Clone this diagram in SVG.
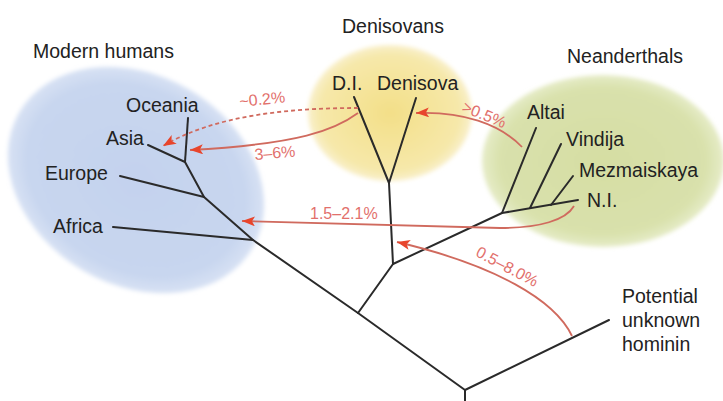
<svg xmlns="http://www.w3.org/2000/svg" width="723" height="401" viewBox="0 0 723 401">
<defs>
<filter id="soft" x="-10%" y="-10%" width="120%" height="120%"><feGaussianBlur stdDeviation="2"/></filter>
<radialGradient id="yel" cx="0.5" cy="0.5" r="0.5"><stop offset="0" stop-color="#f3df88"/><stop offset="0.85" stop-color="#f6e8aa"/><stop offset="1" stop-color="#f9f0cc"/></radialGradient>
<radialGradient id="grn" cx="0.5" cy="0.5" r="0.5"><stop offset="0" stop-color="#d6dea3"/><stop offset="0.85" stop-color="#d9e1ac"/><stop offset="1" stop-color="#e6ecc8"/></radialGradient>
<radialGradient id="blu" cx="0.5" cy="0.5" r="0.5"><stop offset="0" stop-color="#c4d2ee"/><stop offset="0.85" stop-color="#c8d6ef"/><stop offset="1" stop-color="#d8e2f4"/></radialGradient>
<marker id="ah" viewBox="0 0 13 10" refX="13" refY="5" markerWidth="13" markerHeight="10" markerUnits="userSpaceOnUse" orient="auto"><path d="M0,0 L13,5 L0,10 L3,5 z" fill="#e8452c"/></marker>
<style>
.lbl{font-family:"Liberation Sans",Arial,sans-serif;font-size:19.5px;fill:#222}
.pct{font-family:"Liberation Sans",Arial,sans-serif;font-size:16px;fill:#e2706c}
.br{fill:none;stroke:#2a2a2a;stroke-width:2;stroke-linecap:round;stroke-linejoin:round}
.fl{fill:none;stroke:#d06a5e;stroke-width:1.8}
</style>
</defs>
<rect width="723" height="401" fill="#ffffff"/>
<g id="groups">
<ellipse cx="136" cy="180" rx="135" ry="105" transform="rotate(30 136 180)" fill="url(#blu)" filter="url(#soft)"/>
<ellipse cx="390" cy="113" rx="82" ry="68" fill="url(#yel)" filter="url(#soft)"/>
<ellipse cx="603" cy="161" rx="121" ry="86" fill="url(#grn)" filter="url(#soft)"/>
</g>
<g id="tree">
<path class="br" d="M465,401 L465,390 L358,313 L253,240 L204,197 L185,162 L148,145"/>
<path class="br" d="M185,162 L188,118"/>
<path class="br" d="M204,197 L120,176"/>
<path class="br" d="M253,240 L113,227"/>
<path class="br" d="M358,313 L393,264 L389,183"/>
<path class="br" d="M389,183 L354,97"/>
<path class="br" d="M389,183 L416,98"/>
<path class="br" d="M393,264 L502,213 L578,200"/>
<path class="br" d="M502,213 L536,128"/>
<path class="br" d="M530,208 L561,144"/>
<path class="br" d="M551,205 L573,176"/>
<path class="br" d="M465,390 L609,320"/>
</g>
<g id="connectors">
<path class="fl" d="M358,108 C290,108 215,115 163,146" stroke="#b68080" stroke-dasharray="4,3" marker-end="url(#ah)"/>
<path class="fl" d="M358,113 C335,130 300,144 190,150" stroke="#c0705e" marker-end="url(#ah)"/>
<path class="fl" d="M522,147 C500,124 462,111 416,113" stroke="#b07a58" marker-end="url(#ah)"/>
<path class="fl" d="M574,206 C566,220 540,228 500,228 L242,221" stroke="#e07070" marker-end="url(#ah)"/>
<path class="fl" d="M572,336 C555,300 495,265 397,242" stroke="#c8707a" marker-end="url(#ah)"/>
</g>
<g id="labels">
<text class="lbl" x="33" y="58">Modern humans</text>
<text class="lbl" x="342" y="33">Denisovans</text>
<text class="lbl" x="567" y="63">Neanderthals</text>
<text class="lbl" x="126" y="112">Oceania</text>
<text class="lbl" x="106" y="145">Asia</text>
<text class="lbl" x="45" y="180">Europe</text>
<text class="lbl" x="53" y="233">Africa</text>
<text class="lbl" x="332" y="90">D.I.</text>
<text class="lbl" x="377" y="90">Denisova</text>
<text class="lbl" x="527" y="119">Altai</text>
<text class="lbl" x="566" y="146">Vindija</text>
<text class="lbl" x="579" y="177">Mezmaiskaya</text>
<text class="lbl" x="587" y="207">N.I.</text>
<text class="lbl" x="622" y="303">Potential</text>
<text class="lbl" x="622" y="327">unknown</text>
<text class="lbl" x="622" y="351">hominin</text>
</g>
<g id="percents">
<text class="pct" x="240" y="107" transform="rotate(-6 240 107)">~0.2%</text>
<text class="pct" x="255" y="160" transform="rotate(-5 255 160)">3–6%</text>
<text class="pct" transform="translate(484,115) rotate(22)" x="0" y="5" text-anchor="middle">&gt;0.5%</text>
<text class="pct" x="310" y="219">1.5–2.1%</text>
<text class="pct" transform="translate(507,267) rotate(28)" x="0" y="5" text-anchor="middle">0.5–8.0%</text>
</g>
</svg>
